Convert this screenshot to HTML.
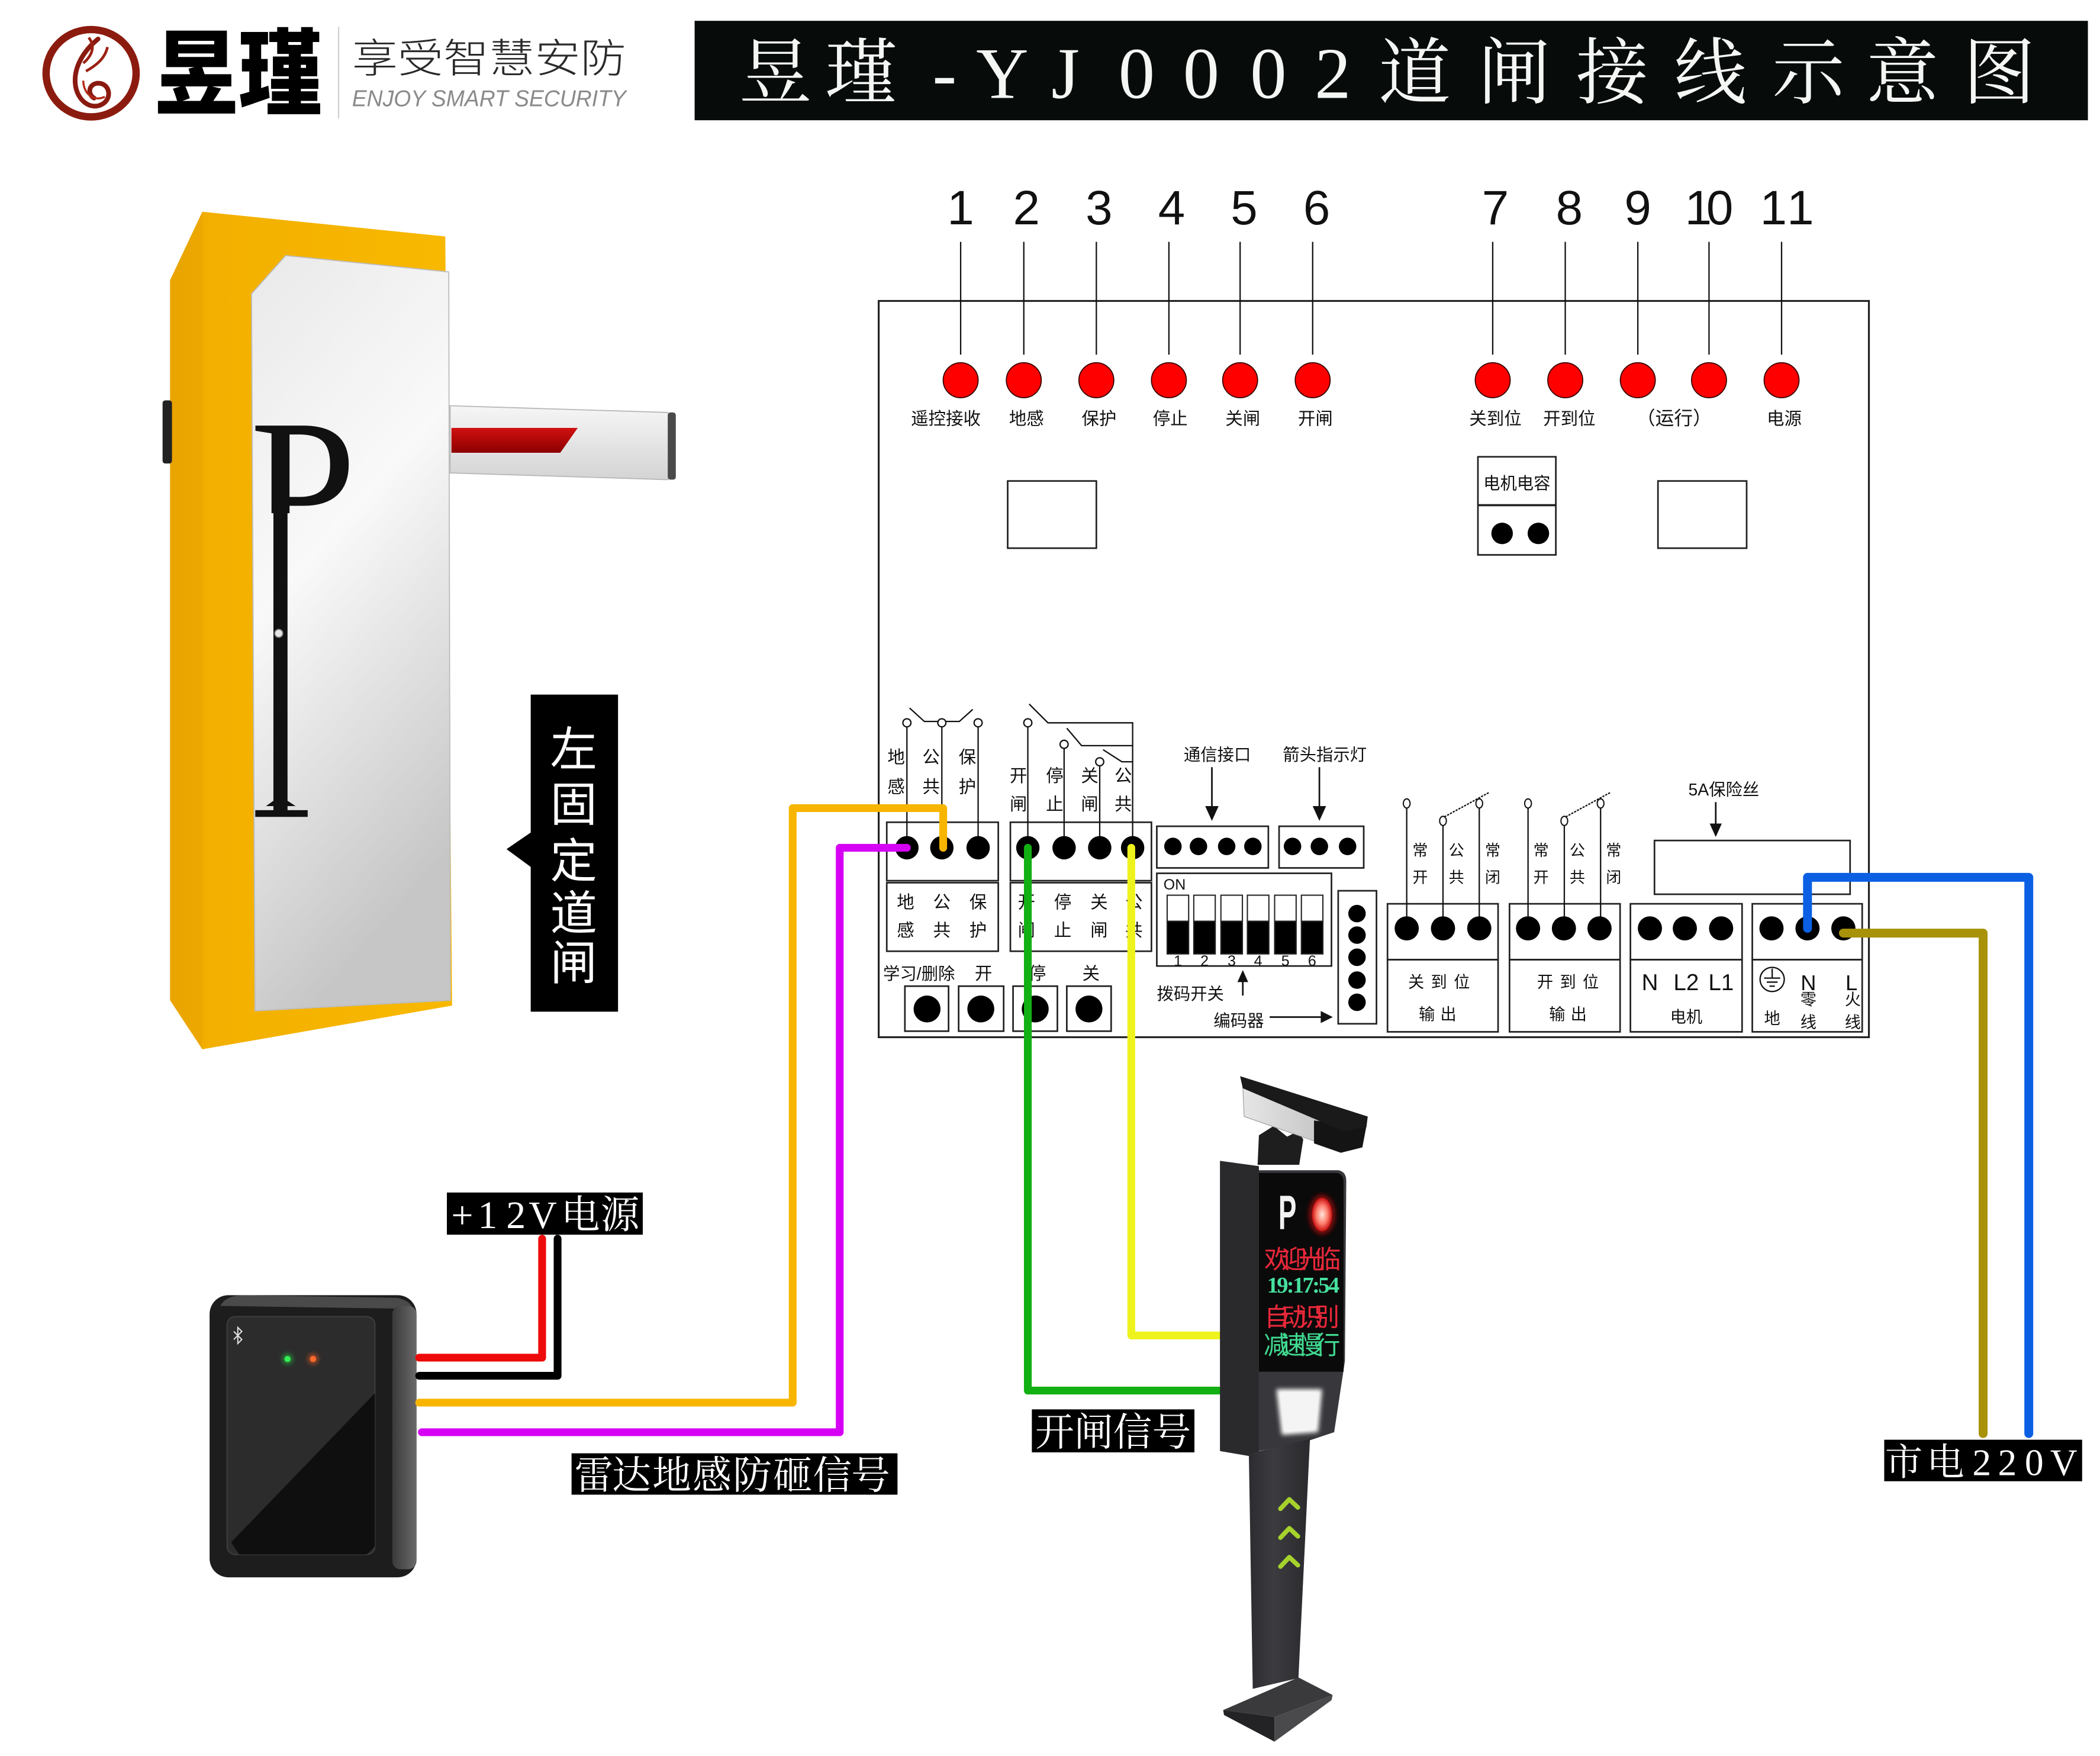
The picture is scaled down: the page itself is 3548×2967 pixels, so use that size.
<!DOCTYPE html>
<html><head><meta charset="utf-8">
<style>
html,body{margin:0;padding:0;background:#fff;}
svg{display:block;}
.cn{font-family:"Liberation Sans","Noto Sans CJK SC",sans-serif;}
.sf{font-family:"Liberation Serif","Noto Serif CJK SC",serif;}
</style></head>
<body>
<svg xmlns="http://www.w3.org/2000/svg" width="3548" height="2967" viewBox="0 0 1563 1307" preserveAspectRatio="none">
<defs>
<linearGradient id="cab" x1="0" y1="0" x2="1" y2="0">
<stop offset="0" stop-color="#e9a300"/><stop offset="0.14" stop-color="#f3b000"/><stop offset="1" stop-color="#f8b800"/></linearGradient>
<linearGradient id="door" x1="0" y1="0" x2="0.3" y2="1">
<stop offset="0" stop-color="#e9e9e9"/><stop offset="0.45" stop-color="#f9f9f9"/><stop offset="1" stop-color="#c6c6c6"/></linearGradient>
<linearGradient id="arm" x1="0" y1="0" x2="0" y2="1">
<stop offset="0" stop-color="#f6f6f6"/><stop offset="1" stop-color="#d4d4d4"/></linearGradient>
<linearGradient id="stripe" x1="0" y1="0" x2="0" y2="1">
<stop offset="0" stop-color="#d01010"/><stop offset="1" stop-color="#8c0000"/></linearGradient>
<linearGradient id="side" x1="0" y1="0" x2="1" y2="0">
<stop offset="0" stop-color="#3a3a3a"/><stop offset="1" stop-color="#6a6a6a"/></linearGradient>
<linearGradient id="pole" x1="0" y1="0" x2="1" y2="0">
<stop offset="0" stop-color="#2c2c30"/><stop offset="0.4" stop-color="#3c3c40"/><stop offset="1" stop-color="#2a2a2d"/></linearGradient>
<linearGradient id="cam" x1="0" y1="0" x2="1" y2="0">
<stop offset="0" stop-color="#e6e6e6"/><stop offset="1" stop-color="#bdbdbd"/></linearGradient>
<radialGradient id="redl" cx="0.5" cy="0.5" r="0.5">
<stop offset="0" stop-color="#ffe6dc"/><stop offset="0.55" stop-color="#ff8070"/><stop offset="1" stop-color="#c81010"/></radialGradient>
<filter id="glow" x="-50%" y="-50%" width="200%" height="200%"><feGaussianBlur stdDeviation="1.6"/></filter>
<clipPath id="pclip"><rect x="180" y="300" width="100" height="82"/></clipPath>
</defs>

<rect x="0" y="0" width="1563" height="1307" fill="#fff"/>

<!-- ===== Logo ===== -->
<ellipse cx="67.8" cy="54.5" rx="33.5" ry="32.5" fill="none" stroke="#8c1b0f" stroke-width="5.5"/>
<path d="M73,29 C62,38 55,50 56,62 C57,75 68,83 77,77 C84,72 81,61 72,62 C66,63 65,70 70,73" fill="none" stroke="#8a1a10" stroke-width="3.5" stroke-linecap="round"/>
<path d="M66,28 C71,34 69,41 62,47" fill="none" stroke="#9a2012" stroke-width="2"/>
<path d="M80,35 C78,44 71,49 64,53" fill="none" stroke="#9a2012" stroke-width="2"/>
<path d="M62,60 C62,70 70,76 78,72" fill="none" stroke="#b02a18" stroke-width="1.5"/>
<text class="cn" x="115" y="80" font-size="70" font-weight="900" textLength="125" lengthAdjust="spacingAndGlyphs" fill="#000">昱瑾</text>
<line x1="252" y1="20" x2="252" y2="88" stroke="#cfcfcf" stroke-width="1"/>
<text class="cn" x="262" y="54" font-size="30" font-weight="300" textLength="204" lengthAdjust="spacingAndGlyphs" fill="#2a2a2a">享受智慧安防</text>
<text class="cn" x="262" y="79" font-size="17" textLength="204" lengthAdjust="spacingAndGlyphs" fill="#8a8a8a" font-style="italic">ENJOY SMART SECURITY</text>

<!-- ===== Title ===== -->
<rect x="517" y="15.5" width="1037" height="74" fill="#070b09"/>
<g class="sf" font-size="54" fill="#f4f6f4" text-anchor="middle">
<text x="577" y="73">昱</text><text x="641" y="73">瑾</text><text x="703" y="73">-</text>
<text x="746" y="73">Y</text><text x="793" y="73">J</text><text x="846" y="73">0</text>
<text x="894" y="73">0</text><text x="944" y="73">0</text><text x="992" y="73">2</text>
<text x="1053" y="73">道</text><text x="1127" y="73">闸</text><text x="1200" y="73">接</text>
<text x="1273" y="73">线</text><text x="1346" y="73">示</text><text x="1416" y="73">意</text>
<text x="1488" y="73">图</text>
</g>

<!-- ===== Barrier gate ===== -->
<polygon points="126.6,208.5 150.6,157.6 331.4,176 336.5,748.5 150.6,781 126.6,744.5" fill="url(#cab)"/>
<polygon points="126.6,208.5 150.6,157.6 150.6,781 126.6,744.5" fill="#eaa500" opacity="0.6"/>
<rect x="121" y="298" width="7" height="47" rx="2" fill="#222"/>
<polygon points="335,302 497,307 501,312 501,353 497,357 335,352" fill="url(#arm)" stroke="#b8b8b8" stroke-width="0.8"/>
<polygon points="336,318.5 430,318.5 417,337 336,337" fill="url(#stripe)"/>
<rect x="497" y="307" width="6" height="50" rx="2" fill="#4a4a4a"/>
<polygon points="187.2,218.7 212.6,190.2 334,202.4 335.2,744.5 189.8,752.4" fill="url(#door)" stroke="#bdbdbd" stroke-width="0.8"/>
<g clip-path="url(#pclip)">
<text x="0" y="0" font-family="Liberation Serif, serif" font-size="150" fill="#111" transform="translate(186,415) scale(0.95,1)">P</text>
</g>
<rect x="203.5" y="370" width="10.5" height="236" fill="#111"/>
<polygon points="190,603 229,603 229,608 190,608" fill="#111"/>
<polygon points="198,600 203.5,596 214,596 220,600" fill="#111"/>
<circle cx="207.5" cy="471.4" r="3" fill="#e4e4e4" stroke="#777" stroke-width="0.8"/>
<rect x="395" y="517" width="65" height="236" fill="#000"/>
<polygon points="377,632 396,619 396,646" fill="#000"/>
<g class="cn" font-size="35" fill="#fff" text-anchor="middle">
<text x="427" y="570">左</text><text x="427" y="611">固</text><text x="427" y="653">定</text>
<text x="427" y="692">道</text><text x="427" y="729">闸</text>
</g>

<!-- ===== Control board ===== -->
<rect x="654" y="224" width="737" height="548" fill="none" stroke="#222" stroke-width="1.4"/>
<g stroke="#111" stroke-width="1">
<line x1="715" y1="180" x2="715" y2="264"/><line x1="762" y1="180" x2="762" y2="264"/>
<line x1="816" y1="180" x2="816" y2="264"/><line x1="870" y1="180" x2="870" y2="264"/>
<line x1="923" y1="180" x2="923" y2="264"/><line x1="977" y1="180" x2="977" y2="264"/>
<line x1="1111" y1="180" x2="1111" y2="264"/><line x1="1165" y1="180" x2="1165" y2="264"/>
<line x1="1219" y1="180" x2="1219" y2="264"/><line x1="1272" y1="180" x2="1272" y2="264"/>
<line x1="1326" y1="180" x2="1326" y2="264"/>
</g>
<g class="cn" font-size="36" fill="#111" text-anchor="middle" lengthAdjust="spacingAndGlyphs">
<text x="715" y="167" textLength="12">1</text><text x="764" y="167" textLength="16">2</text>
<text x="818" y="167" textLength="16">3</text><text x="872" y="167" textLength="17">4</text>
<text x="926" y="167" textLength="16">5</text><text x="980" y="167" textLength="16">6</text>
<text x="1113" y="167" textLength="16">7</text><text x="1168" y="167" textLength="17">8</text>
<text x="1219" y="167" textLength="17">9</text><text x="1272" y="167" textLength="36">10</text>
<text x="1320" y="167" textLength="12">1</text><text x="1340" y="167" textLength="12">1</text>
</g>
<g fill="#ff0000" stroke="#3a0000" stroke-width="0.8">
<circle cx="715" cy="283" r="13"/><circle cx="762" cy="283" r="13"/><circle cx="816" cy="283" r="13"/>
<circle cx="870" cy="283" r="13"/><circle cx="923" cy="283" r="13"/><circle cx="977" cy="283" r="13"/>
<circle cx="1111" cy="283" r="13"/><circle cx="1165" cy="283" r="13"/><circle cx="1219" cy="283" r="13"/>
<circle cx="1272" cy="283" r="13"/><circle cx="1326" cy="283" r="13"/>
</g>
<g class="cn" font-size="13" fill="#111" text-anchor="middle">
<text x="704" y="316">遥控接收</text><text x="764" y="316">地感</text><text x="818" y="316">保护</text>
<text x="871" y="316">停止</text><text x="925" y="316">关闸</text><text x="979" y="316">开闸</text>
<text x="1113" y="316">关到位</text><text x="1168" y="316">开到位</text><text x="1246" y="316" font-size="14">（运行）</text>
<text x="1328" y="316">电源</text>
</g>
<rect x="750" y="358" width="66" height="50" fill="none" stroke="#222" stroke-width="1.2"/>
<rect x="1234" y="358" width="66" height="50" fill="none" stroke="#222" stroke-width="1.2"/>
<rect x="1100" y="340" width="58" height="73" fill="none" stroke="#222" stroke-width="1.2"/>
<line x1="1100" y1="376" x2="1158" y2="376" stroke="#222" stroke-width="1.6"/>
<text class="cn" x="1129" y="364" font-size="12.5" text-anchor="middle" fill="#111">电机电容</text>
<circle cx="1118" cy="397" r="8" fill="#000"/><circle cx="1145" cy="397" r="8" fill="#000"/>

<!-- terminal block 1 -->
<g fill="none" stroke="#222" stroke-width="1.2">
<rect x="660" y="612" width="83" height="43.5"/><rect x="660" y="657" width="83" height="51"/>
<rect x="752" y="612" width="105" height="43.5"/><rect x="752" y="657" width="105" height="51"/>
</g>
<g stroke="#111" stroke-width="1" fill="none">
<line x1="675" y1="541" x2="675" y2="631"/><line x1="701" y1="541" x2="701" y2="631"/><line x1="728" y1="541" x2="728" y2="631"/>
<polyline points="677,527 688,537 714,537 724,528"/>
<line x1="765" y1="541" x2="765" y2="631"/>
<polyline points="766,524 780,538 843,538 843,631"/>
<line x1="792" y1="557" x2="792" y2="631"/>
<polyline points="794,542 805,555 843,555"/>
<line x1="818.5" y1="570" x2="818.5" y2="631"/>
<polyline points="821,558 835,567 843,567"/>
</g>
<g fill="#fff" stroke="#111" stroke-width="1">
<circle cx="675" cy="538" r="3"/><circle cx="701" cy="538" r="3"/><circle cx="728" cy="538" r="3"/>
<circle cx="765" cy="538" r="3"/><circle cx="792" cy="554" r="3"/><circle cx="818.5" cy="567" r="3"/>
</g>
<g fill="#000">
<circle cx="675" cy="631" r="8.7"/><circle cx="701" cy="631" r="8.7"/><circle cx="728" cy="631" r="8.7"/>
<circle cx="765" cy="631" r="8.7"/><circle cx="792" cy="631" r="8.7"/><circle cx="818.5" cy="631" r="8.7"/><circle cx="843" cy="631" r="8.7"/>
</g>
<g class="cn" font-size="13" fill="#111" text-anchor="middle">
<text x="667" y="568">地</text><text x="667" y="590">感</text>
<text x="693" y="568">公</text><text x="693" y="590">共</text>
<text x="720" y="568">保</text><text x="720" y="590">护</text>
<text x="758" y="582">开</text><text x="758" y="603">闸</text>
<text x="785" y="582">停</text><text x="785" y="603">止</text>
<text x="811" y="582">关</text><text x="811" y="603">闸</text>
<text x="836" y="582">公</text><text x="836" y="603">共</text>
<text x="674" y="676">地</text><text x="674" y="697">感</text>
<text x="701" y="676">公</text><text x="701" y="697">共</text>
<text x="728" y="676">保</text><text x="728" y="697">护</text>
<text x="764" y="676">开</text><text x="764" y="697">闸</text>
<text x="791" y="676">停</text><text x="791" y="697">止</text>
<text x="818" y="676">关</text><text x="818" y="697">闸</text>
<text x="844" y="676">公</text><text x="844" y="697">共</text>
<text x="684" y="729" font-size="12.5">学习/删除</text><text x="732" y="729">开</text>
<text x="772" y="729">停</text><text x="812" y="729">关</text>
</g>
<g fill="none" stroke="#222" stroke-width="1.2">
<rect x="673.5" y="734" width="32.5" height="33.5"/><rect x="713.5" y="734" width="33.5" height="33.5"/>
<rect x="754" y="734" width="33" height="33.5"/><rect x="794" y="734" width="33" height="33.5"/>
</g>
<g fill="#000">
<circle cx="690" cy="751" r="10"/><circle cx="730" cy="751" r="10"/><circle cx="770.5" cy="751" r="10"/><circle cx="810.5" cy="751" r="10"/>
</g>

<!-- comm / arrow / dip / encoder -->
<g fill="none" stroke="#222" stroke-width="1.2">
<rect x="861" y="615" width="83" height="31"/><rect x="952" y="615" width="63" height="31"/>
<rect x="861" y="650" width="130" height="69"/><rect x="996" y="663" width="28.5" height="99"/>
</g>
<g fill="#000">
<circle cx="873" cy="630" r="6.5"/><circle cx="892" cy="630" r="6.5"/><circle cx="913" cy="630" r="6.5"/><circle cx="932.5" cy="630" r="6.5"/>
<circle cx="962" cy="630" r="6.5"/><circle cx="982" cy="630" r="6.5"/><circle cx="1003" cy="630" r="6.5"/>
<circle cx="1010" cy="680" r="6.5"/><circle cx="1010" cy="696" r="6.5"/><circle cx="1010" cy="712.5" r="6.5"/>
<circle cx="1010" cy="729.5" r="6.5"/><circle cx="1010" cy="746" r="6.5"/>
</g>
<g class="cn" font-size="12.5" fill="#111" text-anchor="middle">
<text x="906" y="566">通信接口</text><text x="986" y="566">箭头指示灯</text>
<text x="886" y="744">拨码开关</text><text x="922" y="764">编码器</text>
<text x="1283" y="592" font-size="12.5">5A保险丝</text>
</g>
<g stroke="#111" stroke-width="1.2">
<line x1="902" y1="571" x2="902" y2="602"/><line x1="982" y1="571" x2="982" y2="602"/>
<line x1="925" y1="741" x2="925" y2="729"/><line x1="945" y1="757" x2="984" y2="757"/>
<line x1="1277" y1="597" x2="1277" y2="615"/>
</g>
<g fill="#111">
<polygon points="897,600 907,600 902,611"/><polygon points="977,600 987,600 982,611"/>
<polygon points="921,731 929,731 925,722"/><polygon points="983,752.5 983,761.5 992,757"/>
<polygon points="1272.5,613 1281.5,613 1277,623"/>
</g>
<text x="866" y="662" font-family="Liberation Sans, sans-serif" font-size="11" fill="#111">ON</text>
<g stroke="#222" stroke-width="0.9">
<rect x="868.7" y="666.3" width="16" height="19.4" fill="#fff"/><rect x="868.7" y="685.7" width="16" height="24.3" fill="#000"/>
<rect x="888.5" y="666.3" width="16" height="19.4" fill="#fff"/><rect x="888.5" y="685.7" width="16" height="24.3" fill="#000"/>
<rect x="908.7" y="666.3" width="16" height="19.4" fill="#fff"/><rect x="908.7" y="685.7" width="16" height="24.3" fill="#000"/>
<rect x="928.4" y="666.3" width="16" height="19.4" fill="#fff"/><rect x="928.4" y="685.7" width="16" height="24.3" fill="#000"/>
<rect x="948.7" y="666.3" width="16" height="19.4" fill="#fff"/><rect x="948.7" y="685.7" width="16" height="24.3" fill="#000"/>
<rect x="968.6" y="666.3" width="16" height="19.4" fill="#fff"/><rect x="968.6" y="685.7" width="16" height="24.3" fill="#000"/>
</g>
<g font-family="Liberation Sans, sans-serif" font-size="11" fill="#111" text-anchor="middle">
<text x="876.7" y="719">1</text><text x="896.5" y="719">2</text><text x="916.7" y="719">3</text>
<text x="936.4" y="719">4</text><text x="956.7" y="719">5</text><text x="976.6" y="719">6</text>
</g>

<!-- right side blocks -->
<g fill="none" stroke="#222" stroke-width="1.2">
<rect x="1032.7" y="672.7" width="82.3" height="41.6"/><rect x="1032.7" y="714.3" width="82.3" height="53.7"/>
<rect x="1123.5" y="672.7" width="82.3" height="41.6"/><rect x="1123.5" y="714.3" width="82.3" height="53.7"/>
<rect x="1213.5" y="672.7" width="83.1" height="41.6"/><rect x="1213.5" y="714.3" width="83.1" height="53.7"/>
<rect x="1304.2" y="672.7" width="81.8" height="41.6"/><rect x="1304.2" y="714.3" width="81.8" height="53.7"/>
<rect x="1231.4" y="625.6" width="145.6" height="40"/>
</g>
<g stroke="#111" stroke-width="1" fill="none">
<line x1="1047" y1="601" x2="1047" y2="691"/><line x1="1074" y1="614" x2="1074" y2="691"/><line x1="1101" y1="601" x2="1101" y2="691"/>
<line x1="1137.3" y1="601" x2="1137.3" y2="691"/><line x1="1164.3" y1="614" x2="1164.3" y2="691"/><line x1="1191.3" y1="601" x2="1191.3" y2="691"/>
<line x1="1075" y1="608" x2="1108" y2="590" stroke-dasharray="1.6 0.8"/>
<line x1="1165.3" y1="608" x2="1198.3" y2="590" stroke-dasharray="1.6 0.8"/>
</g>
<g fill="#fff" stroke="#111" stroke-width="0.9">
<ellipse cx="1047" cy="598" rx="2.5" ry="3.4"/><ellipse cx="1074" cy="611" rx="2.5" ry="3.4"/><ellipse cx="1101" cy="598" rx="2.5" ry="3.4"/>
<ellipse cx="1137.3" cy="598" rx="2.5" ry="3.4"/><ellipse cx="1164.3" cy="611" rx="2.5" ry="3.4"/><ellipse cx="1191.3" cy="598" rx="2.5" ry="3.4"/>
</g>
<g fill="#000">
<circle cx="1047" cy="691" r="9"/><circle cx="1074" cy="691" r="9"/><circle cx="1101" cy="691" r="9"/>
<circle cx="1137.3" cy="691" r="9"/><circle cx="1164" cy="691" r="9"/><circle cx="1190.5" cy="691" r="9"/>
<circle cx="1228" cy="691" r="9"/><circle cx="1254" cy="691" r="9"/><circle cx="1281" cy="691" r="9"/>
<circle cx="1318.5" cy="691" r="9"/><circle cx="1345.3" cy="691" r="9"/><circle cx="1372" cy="691" r="9"/>
</g>
<g class="cn" font-size="11.5" fill="#111" text-anchor="middle">
<text x="1057" y="637">常</text><text x="1057" y="657">开</text>
<text x="1084" y="637">公</text><text x="1084" y="657">共</text>
<text x="1111" y="637">常</text><text x="1111" y="657">闭</text>
<text x="1147" y="637">常</text><text x="1147" y="657">开</text>
<text x="1174" y="637">公</text><text x="1174" y="657">共</text>
<text x="1201" y="637">常</text><text x="1201" y="657">闭</text>
</g>
<g class="cn" font-size="12" fill="#111" text-anchor="middle">
<text x="1054" y="735">关</text><text x="1071" y="735">到</text><text x="1088" y="735">位</text>
<text x="1062" y="759">输</text><text x="1078" y="759">出</text>
<text x="1150" y="735">开</text><text x="1167" y="735">到</text><text x="1184" y="735">位</text>
<text x="1159" y="759">输</text><text x="1175" y="759">出</text>
<text x="1255" y="761">电机</text>
<text x="1319" y="762">地</text>
<text x="1346" y="748">零</text><text x="1346" y="765">线</text>
<text x="1379" y="748">火</text><text x="1379" y="765">线</text>
</g>
<g font-family="Liberation Sans, sans-serif" font-size="17" fill="#111" text-anchor="middle">
<text x="1228" y="737">N</text><text x="1255" y="737">L2</text><text x="1281" y="737">L1</text>
<text x="1346" y="737" font-size="16">N</text><text x="1378" y="737" font-size="16">L</text>
</g>
<circle cx="1319" cy="729" r="9" fill="none" stroke="#111" stroke-width="1"/>
<g stroke="#111" stroke-width="1">
<line x1="1319" y1="721" x2="1319" y2="728"/><line x1="1313" y1="728" x2="1325" y2="728"/>
<line x1="1315" y1="731" x2="1323" y2="731"/><line x1="1317" y1="734" x2="1321" y2="734"/>
</g>

<!-- ===== Radar device ===== -->
<rect x="156" y="964" width="154" height="210" rx="14" fill="#1d1d1d"/>
<path d="M164,972 Q168,964 182,964 L296,966 Q306,968 308,976 L296,974 Z" fill="#4a4a4a"/>
<rect x="292" y="972" width="18" height="196" rx="6" fill="url(#side)"/>
<rect x="169" y="980" width="110" height="177" rx="6" fill="#2c2c2c" stroke="#3c3c3c" stroke-width="1"/>
<polygon points="279,1037 279,1151 273,1157 178,1157 172,1148" fill="#0f0f0f"/>
<circle cx="214" cy="1011.5" r="4" fill="#22dd44" opacity="0.5" filter="url(#glow)"/>
<circle cx="214" cy="1011.5" r="2.3" fill="#33ee55"/>
<circle cx="233" cy="1011.5" r="4" fill="#ff6020" opacity="0.5" filter="url(#glow)"/>
<circle cx="233" cy="1011.5" r="2.3" fill="#ff6a2a"/>
<path d="M174,991 L180,997 L177,1000 L177,988 L180,991 L174,997" fill="none" stroke="#ddd" stroke-width="0.9"/>

<!-- ===== Wires ===== -->
<g fill="none" stroke-width="5.8" stroke-linecap="round" stroke-linejoin="round">
<path d="M312,1010.5 L403.5,1010.5 L403.5,922" stroke="#ee0a0a"/>
<path d="M312,1024 L415,1024 L415,922" stroke="#000"/>
<path d="M312,1044 L590,1044 L590,601.5 L702,601.5 L702,631" stroke="#f8b500"/>
<path d="M314,1066 L625,1066 L625,631 L675,631" stroke="#d600f5"/>
<path d="M765,631 L765,1035 L907,1035" stroke="#12b012"/>
<path d="M842,631 L842,994 L907,994" stroke="#eef31e"/>
<path d="M1345.3,691 L1345.3,653 L1510,653 L1510,1067" stroke="#0b5fe3" stroke-width="6.6"/>
<path d="M1372,694.5 L1476,694.5 L1476,1067" stroke="#a8920a" stroke-width="6.6"/>
</g>

<!-- ===== Labels ===== -->
<rect x="332.6" y="887.6" width="145.8" height="31.4" fill="#000"/>
<g class="sf" font-size="29" fill="#fff" text-anchor="middle">
<text x="344" y="914">+</text><text x="363" y="914">1</text><text x="384" y="914">2</text>
<text x="404" y="914">V</text><text x="432" y="914">电</text><text x="461.5" y="914">源</text>
</g>
<rect x="425.4" y="1081.7" width="242.6" height="30.8" fill="#000"/>
<g class="sf" font-size="29" fill="#fff" text-anchor="middle">
<text x="442" y="1108">雷</text><text x="470" y="1108">达</text><text x="500" y="1108">地</text>
<text x="530" y="1108">感</text><text x="560" y="1108">防</text><text x="590" y="1108">砸</text>
<text x="619.5" y="1108">信</text><text x="648" y="1108">号</text>
</g>
<rect x="768" y="1049" width="121" height="32" fill="#000"/>
<g class="sf" font-size="29" fill="#fff" text-anchor="middle">
<text x="785" y="1076">开</text><text x="814" y="1076">闸</text><text x="843" y="1076">信</text><text x="872" y="1076">号</text>
</g>
<rect x="1402.4" y="1071.6" width="147.3" height="30.9" fill="#000"/>
<g class="sf" font-size="28" fill="#fff" text-anchor="middle">
<text x="1417" y="1098">市</text><text x="1448" y="1098">电</text><text x="1475" y="1098">2</text>
<text x="1494" y="1098">2</text><text x="1514" y="1098">0</text><text x="1536" y="1098">V</text>
</g>

<!-- ===== Camera pole ===== -->
<polygon points="937,845 948,838 958,846 966,842 970,848 967,867 936,867" fill="#1e1e1e"/>
<polygon points="925,808 1000,835 998,853 986,852 926,831" fill="url(#cam)" stroke="#9a9a9a" stroke-width="0.5"/>
<polygon points="978,834 1017,838 1014,854 998,858 978,851" fill="#141414"/>
<polygon points="923,801 1018,831 1017,839 1000,842 925,810" fill="#1a1a1a"/>
<polygon points="908,864 937,868 937,1085 908,1080" fill="#2a2a2d"/>
<path d="M937,871 L996,871 Q1002,872 1002,879 L1001,1013 L993,1066 L975,1072 L937,1080 Z" fill="#38383c"/>
<path d="M937,873 L995,873 Q1000,874 1000,880 L1000,1021 L937,1021 Z" fill="#0a0a0a"/>
<polygon points="929.5,1082 975,1071 966.4,1249 932.4,1257" fill="url(#pole)"/>
<polygon points="910.4,1272.8 966.4,1248.5 991.9,1261.6 948.6,1278" fill="#3a3a3c"/>
<polygon points="910.4,1272.8 948.6,1278 948.6,1296.3 911,1276.5" fill="#232325"/>
<polygon points="948.6,1278 991.9,1261.6 991,1265.5 948.6,1296.3" fill="#4a4a4d"/>
<g fill="none" stroke="#a6d22c" stroke-width="3.4" stroke-linecap="round" stroke-linejoin="round">
<polyline points="953,1123 959.6,1116 966,1122"/>
<polyline points="953,1144.5 959.6,1137.5 966,1143.5"/>
<polyline points="953,1166 959.6,1159 966,1165"/>
</g>
<polygon points="950,1034 984,1034 981,1066 954,1068" fill="#ffffff" filter="url(#glow)"/>
<polygon points="953,1037 981,1037 979,1063 956,1065" fill="#f4f4f4"/>
<text x="0" y="0" font-family="Liberation Sans, sans-serif" font-size="36" font-weight="bold" fill="#f2f2f2" transform="translate(951.5,915) scale(0.56,1)">P</text>
<ellipse cx="984" cy="904" rx="10" ry="15" fill="#c01010" opacity="0.6" filter="url(#glow)"/>
<ellipse cx="984" cy="904" rx="7.5" ry="12.5" fill="url(#redl)"/>
<g class="cn" font-size="19" text-anchor="middle" lengthAdjust="spacingAndGlyphs">
<text x="969.5" y="944" textLength="57" fill="#e8283a">欢迎光临</text>
<text x="970" y="962" textLength="54" fill="#46e0a0" class="sf" font-size="17" font-weight="bold">19:17:54</text>
<text x="969" y="987" textLength="56" fill="#e8283a">自动识别</text>
<text x="969" y="1008" textLength="57" fill="#40d890">减速慢行</text>
</g>
</svg>
</body></html>
